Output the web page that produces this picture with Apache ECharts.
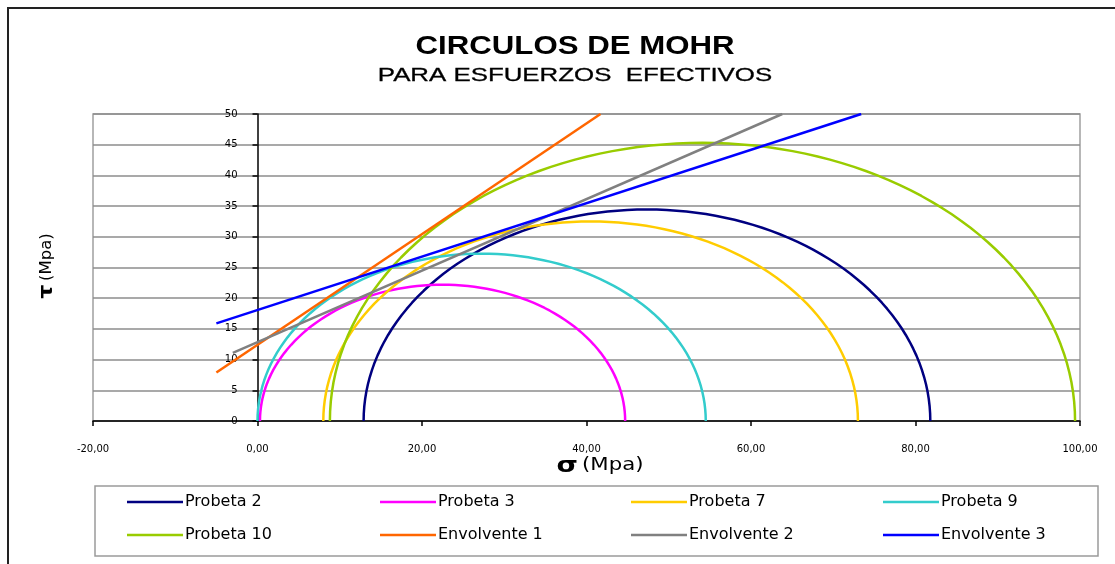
<!DOCTYPE html>
<html>
<head>
<meta charset="utf-8">
<script src="https://cdn.jsdelivr.net/npm/echarts@6/dist/echarts.min.js"></script>
<style>
  html, body { margin: 0; padding: 0; background: #ffffff; }
  #chart { width: 1115px; height: 564px; }
</style>
</head>
<body>
<div id="chart"></div>
<script>
// Effective principal stresses for each specimen (MPa)
const specimens = ['Probeta 2', 'Probeta 3', 'Probeta 7', 'Probeta 9', 'Probeta 10'];
const sigma3 = [12.9, 0.3, 8.0, 0.0, 8.8];
const sigma1 = [81.8, 44.7, 73.0, 54.5, 99.4];

// Failure envelopes, given by their end points (sigma, tau) in MPa
const envelopes = ['Envolvente 1', 'Envolvente 2', 'Envolvente 3'];
const envStart = [[-5, 7.9], [-3, 11.1], [-5, 15.9]];
const envEnd = [[41.7, 50], [63.8, 50], [73.4, 50]];

// Axis ranges and tick steps
const sigmaAxis = { min: -20, max: 100, step: 20 };
const tauAxis = { min: 0, max: 50, step: 5 };

const circleColors = ['#000080', '#FF00FF', '#FFCC00', '#33CCCC', '#99CC00'];
const envColors = ['#FF6600', '#808080', '#0000FF'];

// Upper half of a Mohr circle through sigma3 and sigma1
function mohrHalf(s3, s1) {
  const c = (s1 + s3) / 2, r = (s1 - s3) / 2, pts = [];
  const n = 90;
  for (let i = 0; i <= n; i++) {
    const a = Math.PI * i / n;
    pts.push([c + r * Math.cos(a), r * Math.sin(a)]);
  }
  return pts;
}

const series = [];
specimens.forEach((name, i) => {
  series.push({
    name, type: 'line', data: mohrHalf(sigma3[i], sigma1[i]),
    symbol: 'none', showSymbol: false, smooth: false,
    lineStyle: { color: circleColors[i], width: 2.5 },
    itemStyle: { color: circleColors[i] },
    emphasis: { disabled: true }, z: 3
  });
});
envelopes.forEach((name, i) => {
  series.push({
    name, type: 'line', data: [envStart[i], envEnd[i]],
    symbol: 'none', showSymbol: false,
    lineStyle: { color: envColors[i], width: 2.5 },
    itemStyle: { color: envColors[i] },
    emphasis: { disabled: true }, z: 4
  });
});

// Plot area placement
const gridBox = { left: 93, right: 35, top: 114, bottom: 143 };
const plotWidth = 1115 - gridBox.left - gridBox.right;
// The tau axis stands on sigma = 0
const tauAxisOffset = -plotWidth * (0 - sigmaAxis.min) / (sigmaAxis.max - sigmaAxis.min);

// Legend laid out as a 4 x 2 table
const allNames = specimens.concat(envelopes);
const legendCols = [127, 380, 631, 883];
const legendRows = [494, 527];
const legends = allNames.map((name, i) => ({
  data: [name],
  left: legendCols[i % 4],
  top: legendRows[Math.floor(i / 4)],
  orient: 'horizontal',
  icon: 'rect',
  itemWidth: 56, itemHeight: 2.5, itemGap: 0,
  padding: 0,
  selectedMode: false,
  textStyle: { fontFamily: 'DejaVu Sans', fontSize: 16, color: '#000', padding: [0, 0, 0, -3] }
}));

const fmtSigma = v => v.toFixed(2).replace('.', ',');

const chart = echarts.init(document.getElementById('chart'), null, { renderer: 'canvas' });
chart.setOption({
  animation: false,
  backgroundColor: '#ffffff',
  grid: Object.assign({
    show: true, borderColor: '#a0a0a0', borderWidth: 1.5, backgroundColor: 'transparent'
  }, gridBox),
  legend: legends,
  xAxis: {
    type: 'value', min: sigmaAxis.min, max: sigmaAxis.max, interval: sigmaAxis.step,
    axisLine: { show: true, onZero: false, lineStyle: { color: '#000', width: 1.5 } },
    axisTick: { show: true, inside: false, length: 5, lineStyle: { color: '#000', width: 1.5 } },
    axisLabel: {
      show: true, margin: 23, fontFamily: 'DejaVu Sans', fontSize: 10, color: '#000',
      formatter: fmtSigma, showMinLabel: true, showMaxLabel: true
    },
    splitLine: { show: false }
  },
  yAxis: {
    type: 'value', min: tauAxis.min, max: tauAxis.max, interval: tauAxis.step,
    offset: tauAxisOffset,
    axisLine: { show: true, onZero: false, lineStyle: { color: '#000', width: 1.5 } },
    axisTick: { show: true, inside: false, length: 5, lineStyle: { color: '#000', width: 1.5 } },
    axisLabel: { show: true, margin: 20, fontFamily: 'DejaVu Sans', fontSize: 10, color: '#000' },
    splitLine: { show: true, lineStyle: { color: '#8c8c8c', width: 1.5 } }
  },
  series,
  graphic: [
    {
      type: 'rect', shape: { x: 8, y: 8, width: 1200, height: 700 },
      style: { fill: 'none', stroke: '#222', lineWidth: 2 }, silent: true, z: -1
    },
    {
      type: 'rect', shape: { x: 95, y: 486, width: 1003, height: 70 },
      style: { fill: 'none', stroke: '#9a9a9a', lineWidth: 1.5 }, silent: true
    },
    {
      type: 'text', x: 575, y: 47, scaleX: 1.2,
      style: {
        text: 'CIRCULOS DE MOHR', x: 0, y: 0, align: 'center', verticalAlign: 'middle',
        fontFamily: 'Liberation Sans', fontSize: 26, fontWeight: 'bold', fill: '#000'
      }
    },
    {
      type: 'text', x: 575, y: 76, scaleX: 1.36,
      style: {
        text: 'PARA ESFUERZOS  EFECTIVOS', x: 0, y: 0, align: 'center', verticalAlign: 'middle',
        fontFamily: 'Liberation Sans', fontSize: 19, fill: '#000', stroke: '#000', lineWidth: 0.3
      }
    },
    {
      type: 'text', x: 47, y: 266, rotation: Math.PI / 2, scaleX: 1.1,
      style: {
        text: '{t|τ} {m|(Mpa)}', x: 0, y: 0, align: 'center', verticalAlign: 'middle',
        rich: {
          t: { fontFamily: 'DejaVu Sans', fontSize: 20, fontWeight: 'bold', fill: '#000' },
          m: { fontFamily: 'DejaVu Sans', fontSize: 15, fill: '#000' }
        }
      }
    },
    {
      type: 'text', x: 600, y: 466, scaleX: 1.25,
      style: {
        text: '{s|σ} {m|(Mpa)}', x: 0, y: 0, align: 'center', verticalAlign: 'middle',
        rich: {
          s: { fontFamily: 'DejaVu Sans', fontSize: 22, fontWeight: 'bold', fill: '#000' },
          m: { fontFamily: 'DejaVu Sans', fontSize: 17, fill: '#000' }
        }
      }
    }
  ]
});
</script>
</body>
</html>
